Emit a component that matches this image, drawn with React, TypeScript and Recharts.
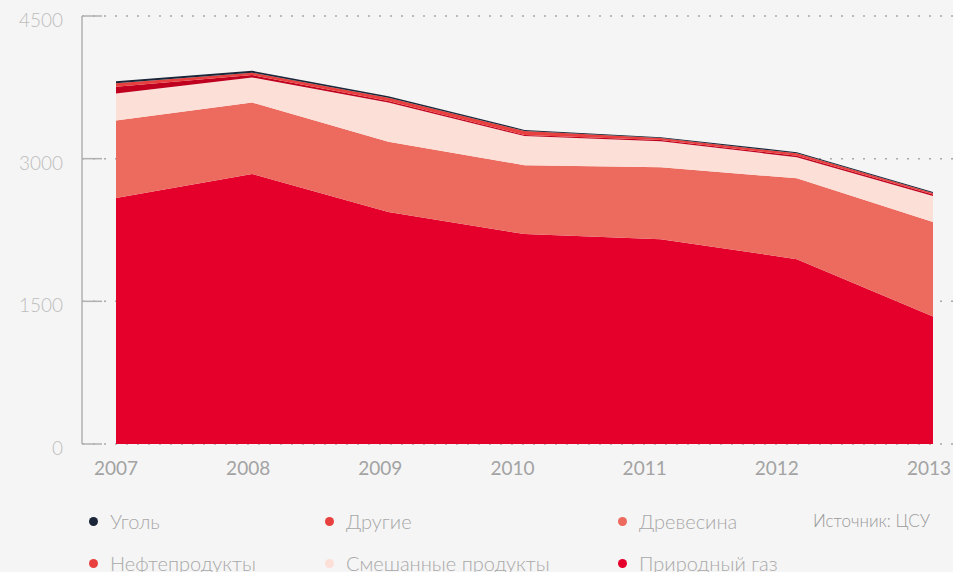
import React from "react";
import { AreaChart, Area, XAxis, YAxis, CartesianGrid } from "recharts";

const years = [2007, 2008, 2009, 2010, 2011, 2012, 2013];
const gas = [2587, 2840, 2439, 2207, 2154, 1943, 1341];
const wood = [813, 750, 739, 725, 755, 850, 993];
const mixed = [285, 264, 412, 306, 275, 222, 274];
const oil = [70, 25, 15, 12, 12, 16, 14];
const other = [38, 25, 35, 40, 20, 25, 18];
const coal = [20, 20, 15, 12, 10, 12, 10];
const yTicks = [0, 1500, 3000, 4500];

const series = [
  { key: "gas", name: "Природный газ", values: gas, fill: "#e4002b", dot: "#e4002b" },
  { key: "wood", name: "Древесина", values: wood, fill: "#ec6a5e", dot: "#ec6a5e" },
  { key: "mixed", name: "Смешанные продукты", values: mixed, fill: "#fcdfd7", dot: "#fcdfd7" },
  { key: "oil", name: "Нефтепродукты", values: oil, fill: "#c0001f", dot: "#e8403f" },
  { key: "other", name: "Другие", values: other, fill: "#e8403f", dot: "#e8403f" },
  { key: "coal", name: "Уголь", values: coal, fill: "#1c2639", dot: "#1c2639" },
];

const legendOrder = ["coal", "other", "wood", "oil", "mixed", "gas"];

const data = years.map((year, i) => {
  const row: any = { year };
  series.forEach((s) => (row[s.key] = s.values[i]));
  return row;
});

const W = 953;
const FONT = "Lato, 'Open Sans', sans-serif";

const YTick = (props: any) => {
  const { x, y, payload } = props;
  return (
    <g>
      <line x1={x} x2={x + 20} y1={y} y2={y} stroke="#b0b0b0" strokeWidth={1.5} />
      <text x={x - 19} y={y + 11} textAnchor="end" fill="#bdbdbd" fontSize={19} fontFamily={FONT} fontWeight={300}>
        {payload.value}
      </text>
    </g>
  );
};

const XTick = (props: any) => {
  const { x, y, payload, index } = props;
  const last = index === years.length - 1;
  return (
    <text
      x={last ? W - 2 : x}
      y={y + 1}
      textAnchor={last ? "end" : "middle"}
      fill="#a3a3a3"
      fontSize={19}
      fontFamily={FONT}
      fontWeight={400}
    >
      {payload.value}
    </text>
  );
};

export default function App() {
  const cols = [94, 330, 623];
  const rows = [521, 563];
  return (
    <div style={{ position: "absolute", left: 0, top: 0, width: W, height: 572, background: "#f5f5f5", overflow: "hidden", fontFamily: FONT }}>
      <AreaChart width={W} height={500} data={data} margin={{ top: 16, right: 0, left: 0, bottom: 0 }}>
        <CartesianGrid horizontal vertical={false} stroke="#a8a8a8" strokeDasharray="2 9" strokeWidth={1.5} />
        <XAxis xAxisId="d" dataKey="year" type="number" domain={[2007, 2013]} hide padding={{ left: 34, right: 20 }} />
        <XAxis
          xAxisId="l"
          type="number"
          dataKey="year"
          domain={[2007, 2013]}
          ticks={years}
          padding={{ left: 34, right: 44 }}
          height={56}
          axisLine={false}
          tickLine={false}
          tickSize={0}
          tickMargin={0}
          tick={<XTick />}
          interval={0}
        />
        <YAxis
          domain={[0, 4500]}
          ticks={yTicks}
          width={82}
          axisLine={{ stroke: "#b0b0b0", strokeWidth: 1.5 }}
          tickLine={false}
          tickSize={0}
          tickMargin={0}
          tick={<YTick />}
          interval={0}
        />
        {series.map((s) => (
          <Area
            key={s.key}
            xAxisId="d"
            dataKey={s.key}
            name={s.name}
            stackId="1"
            type="linear"
            fill={s.fill}
            fillOpacity={1}
            stroke="none"
            isAnimationActive={false}
          />
        ))}
      </AreaChart>
      {legendOrder.map((k, i) => {
        const s = series.find((q) => q.key === k)!;
        const cx = cols[i % 3];
        const cy = rows[Math.floor(i / 3)];
        return (
          <div key={k} style={{ position: "absolute", left: cx - 5, top: cy - 13, height: 26, display: "flex", alignItems: "center", whiteSpace: "nowrap" }}>
            <span style={{ width: 9, height: 9, borderRadius: "50%", background: s.dot, display: "inline-block" }} />
            <span style={{ marginLeft: 12, fontSize: 20, fontWeight: 300, color: "#a8a8a8" }}>{s.name}</span>
          </div>
        );
      })}
      <div style={{ position: "absolute", left: 813, top: 510, height: 22, lineHeight: "22px", fontSize: 17, fontWeight: 300, color: "#9a9a9a", whiteSpace: "nowrap" }}>
        Источник: ЦСУ
      </div>
    </div>
  );
}
